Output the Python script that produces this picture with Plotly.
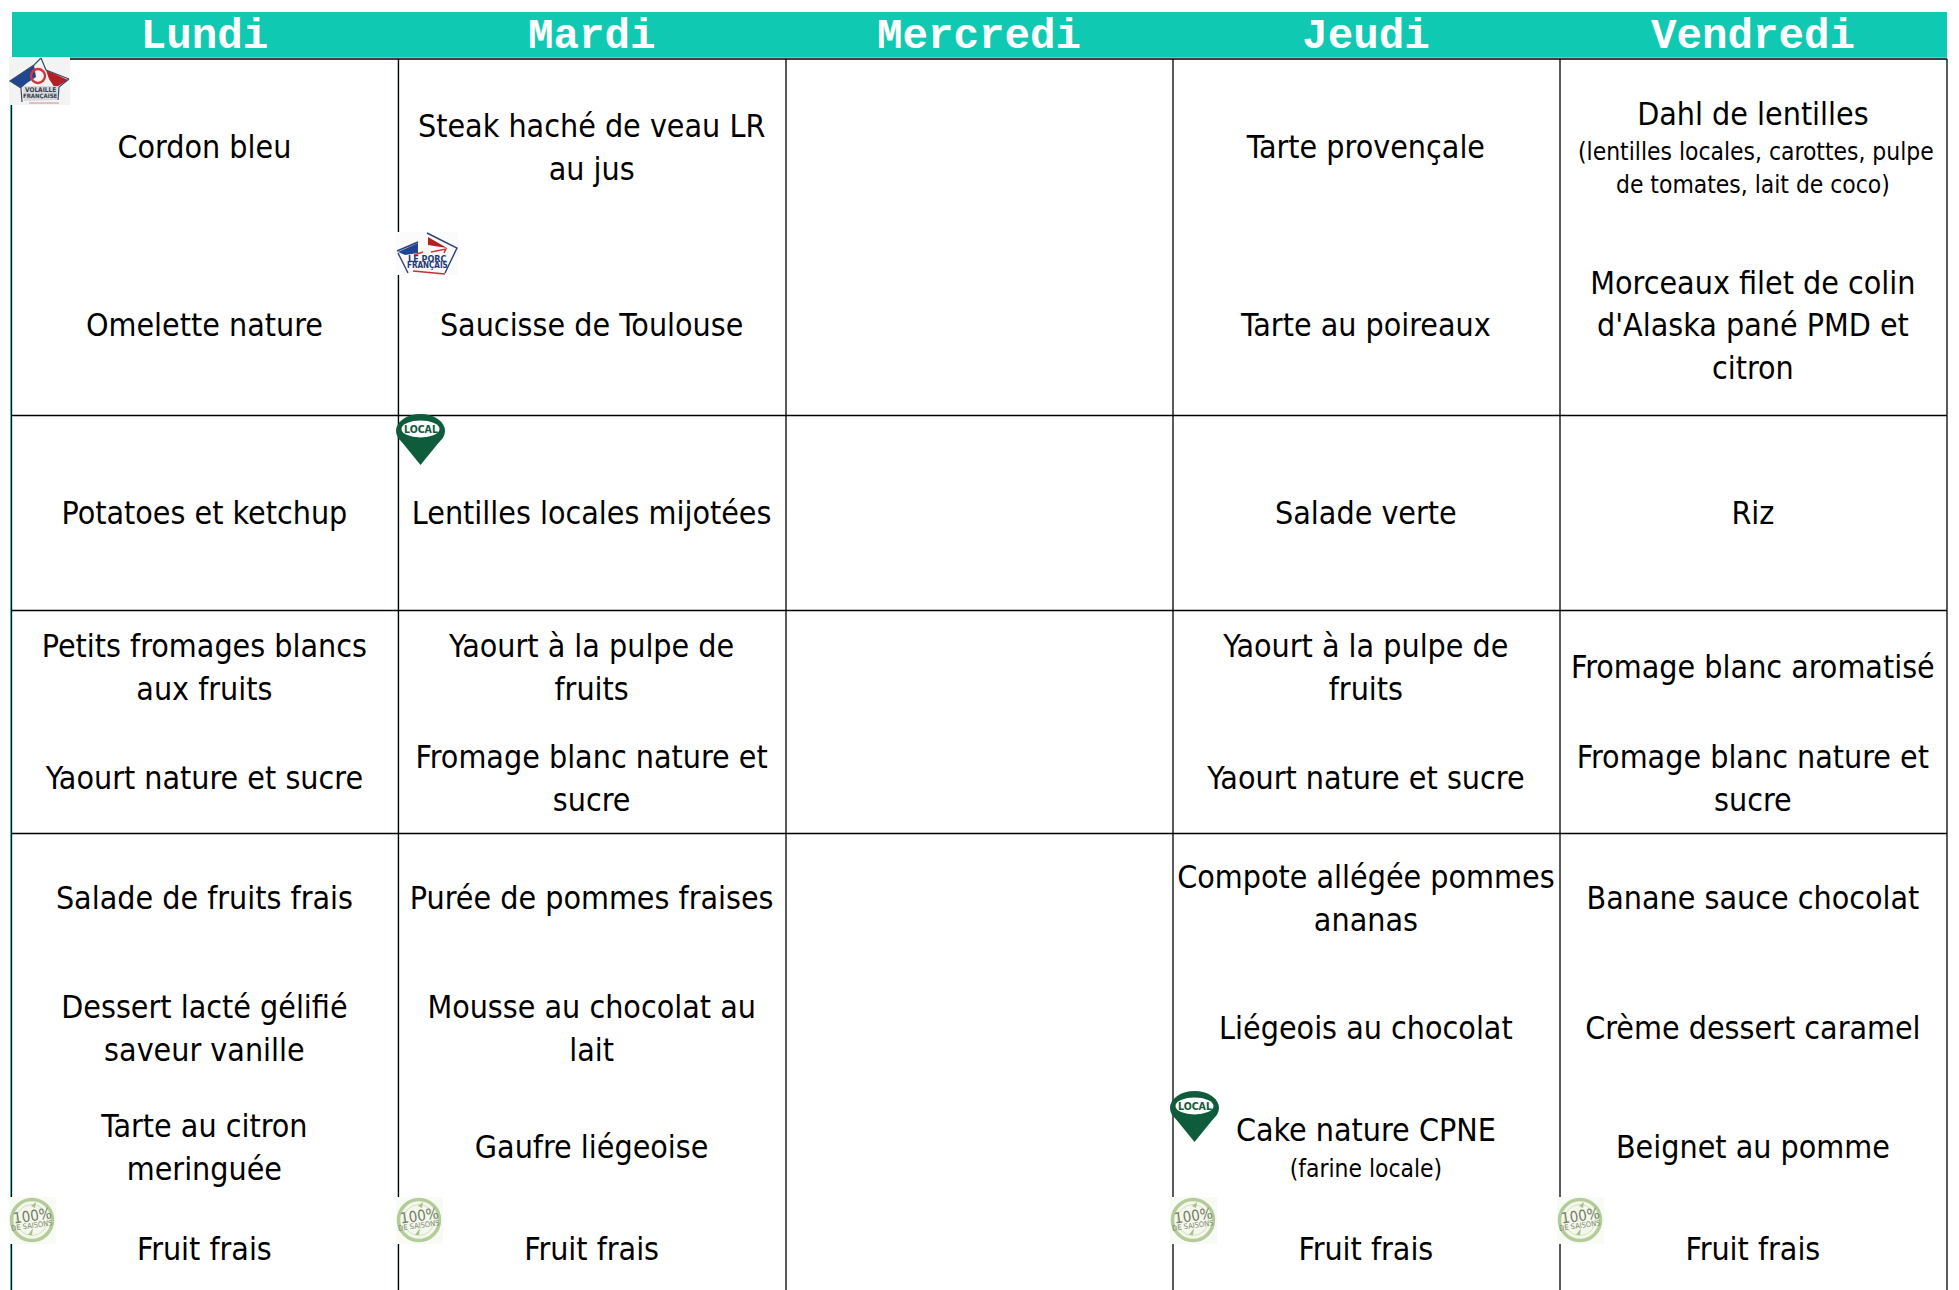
import plotly.graph_objects as go

days = ["Lundi", "Mardi", "Mercredi", "Jeudi", "Vendredi"]
slot_y = [150.5, 328.5, 516.5, 670.5, 781.5, 901.5, 1031.5, 1150.5, 1252.5]

lundi = [["Cordon bleu"], ["Omelette nature"], ["Potatoes et ketchup"],
         ["Petits fromages blancs", "aux fruits"], ["Yaourt nature et sucre"],
         ["Salade de fruits frais"], ["Dessert lacté gélifié", "saveur vanille"],
         ["Tarte au citron", "meringuée"], ["Fruit frais"]]
mardi = [["Steak haché de veau LR", "au jus"], ["Saucisse de Toulouse"], ["Lentilles locales mijotées"],
         ["Yaourt à la pulpe de", "fruits"], ["Fromage blanc nature et", "sucre"],
         ["Purée de pommes fraises"], ["Mousse au chocolat au", "lait"],
         ["Gaufre liégeoise"], ["Fruit frais"]]
mercredi = [[] for _ in slot_y]
jeudi = [["Tarte provençale"], ["Tarte au poireaux"], ["Salade verte"],
         ["Yaourt à la pulpe de", "fruits"], ["Yaourt nature et sucre"],
         ["Compote allégée pommes", "ananas"], ["Liégeois au chocolat"],
         ["Cake nature CPNE", "(farine locale)"], ["Fruit frais"]]
vendredi = [["Dahl de lentilles", "(lentilles locales, carottes, pulpe", "de tomates, lait de coco)"],
            ["Morceaux filet de colin", "d'Alaska pané PMD et", "citron"], ["Riz"],
            ["Fromage blanc aromatisé"], ["Fromage blanc nature et", "sucre"],
            ["Banane sauce chocolat"], ["Crème dessert caramel"],
            ["Beignet au pomme"], ["Fruit frais"]]
menus = [lundi, mardi, mercredi, jeudi, vendredi]

W, H = 1959, 1290
col_lines = [11.5, 398.5, 786, 1173, 1560, 1947]
row_lines = [59, 415.5, 610.5, 833.5]
centers = [(col_lines[i] + col_lines[i + 1]) / 2 - 0.6 for i in range(5)]
LINE_H = 42.5
BODY_FONT = "DejaVu Sans Condensed, DejaVu Sans, sans-serif"
BODY_SIZE = 31.9
SMALL_SIZE = 24.4
TEAL = "#10c9b3"
LOCAL_GREEN = "#0f5c3c"

shapes = []
def rect(x0, y0, x1, y1, fill, layer="above"):
    shapes.append(dict(type="rect", x0=x0, y0=y0, x1=x1, y1=y1, fillcolor=fill, line_width=0, layer=layer))
def poly(pts, fill=None, line=None, w=1, closed=True):
    p = "M " + " L ".join(f"{x},{y}" for x, y in pts) + (" Z" if closed else "")
    shapes.append(dict(type="path", path=p, fillcolor=fill or "rgba(0,0,0,0)",
                       line=dict(color=line or "rgba(0,0,0,0)", width=w), layer="above"))
def circle(cx, cy, rx, ry, fill=None, line=None, w=1):
    shapes.append(dict(type="circle", x0=cx - rx, x1=cx + rx, y0=cy - ry, y1=cy + ry,
                       fillcolor=fill or "rgba(0,0,0,0)",
                       line=dict(color=line or "rgba(0,0,0,0)", width=w), layer="above"))

# header band
rect(12, 12, 1947, 57.7, TEAL, layer="below")
# pale fringes beside the first two vertical rules
shapes.append(dict(type="line", x0=10.5, x1=10.5, y0=59, y1=H, line=dict(color="#35dede", width=1), layer="below"))
shapes.append(dict(type="line", x0=397.5, x1=397.5, y0=59, y1=H, line=dict(color="#b4f2ee", width=1), layer="below"))
# grid
for x in col_lines:
    shapes.append(dict(type="line", x0=x, x1=x, y0=59, y1=H, line=dict(color="#000", width=1.3), layer="below"))
for y in row_lines:
    shapes.append(dict(type="line", x0=11.5, x1=1947, y0=y, y1=y, line=dict(color="#000", width=1.3), layer="below"))

logo_text = []
def R(x, y, pts):
    return [(x + a, y + b) for a, b in pts]
def volaille(x, y):
    rect(x, y, x + 61, y + 48, "#f3f3f3")
    poly(R(x, y, [(1, 24), (25, 8), (27, 20), (18, 26), (12, 31)]), "#1f4690")
    poly(R(x, y, [(37, 13), (59, 23), (46, 31), (40, 22)]), "#b21f24")
    poly(R(x, y, [(32, 1), (37, 13), (60, 22)]), None, "#3d4660", 1.2, closed=False)
    poly(R(x, y, [(32, 1), (25, 8), (1, 24), (12, 31), (13, 45)]), None, "#3d4660", 1.2, closed=False)
    poly(R(x, y, [(60, 22), (50, 30), (49, 43)]), None, "#3d4660", 1.2, closed=False)
    circle(x + 29, y + 19, 7, 7, None, "#d8333a", 2.4)
    poly(R(x, y, [(14, 29), (49, 29), (48, 43), (15, 44)]), "#d6dadf", None)
    poly(R(x, y, [(20, 46), (50, 46)]), None, "#d08a90", 1, closed=False)
    logo_text.append((x + 31, y + 33, "<b>VOLAILLE</b>", 6.5, "#3a3f4a", 0))
    logo_text.append((x + 31, y + 38.5, "<b>FRANÇAISE</b>", 6, "#3a3f4a", 0))
def porc(x, y):
    rect(x, y, x + 62, y + 43, "#fbfbfb")
    poly(R(x, y, [(2, 20), (22, 11), (22, 21), (9, 23)]), "#1f4690")
    poly(R(x, y, [(32, 5), (51, 16), (32, 13)]), "#b21f24")
    poly(R(x, y, [(1, 19), (22, 10)]), None, "#2b3f78", 1.4, closed=False)
    poly(R(x, y, [(31, 1), (61, 16), (49, 41)]), None, "#2b3f78", 1.4, closed=False)
    poly(R(x, y, [(2, 21), (12, 41)]), None, "#2b3f78", 1.4, closed=False)
    poly(R(x, y, [(17, 39), (49, 42)]), None, "#c43038", 1.5, closed=False)
    poly(R(x, y, [(18, 23), (27, 20)]), None, "#d8333a", 1.5, closed=False)
    poly(R(x, y, [(35, 20), (50, 17), (48, 21)]), None, "#d8333a", 1.5, closed=False)
    logo_text.append((x + 31, y + 27, "<b>LE PORC</b>", 9, "#243a75", 0))
    logo_text.append((x + 31, y + 33, "<b>FRANÇAIS</b>", 8, "#243a75", 0))
def local(x, y):
    circle(x + 24.5, y + 17, 24.5, 17, LOCAL_GREEN)
    poly(R(x, y, [(5, 27), (44, 27), (24.5, 51)]), LOCAL_GREEN)
    circle(x + 24.5, y + 15, 19, 8.5, "#ffffff")
    logo_text.append((x + 24.5, y + 15, "<b>LOCAL</b>", 10.5, LOCAL_GREEN, 0))
def saison(x, y):
    rect(x, y, x + 47, y + 47, "#f8faf4")
    circle(x + 23, y + 23, 20.5, 20.5, "#f4f7ec", "#b4cb9a", 3.5)
    circle(x + 23, y + 23, 15.5, 15.5, None, "#d5e2c2", 1)
    poly(R(x, y, [(19, 38), (24, 31), (23, 38)]), "#a9c08c", None)
    poly(R(x, y, [(22, 9), (27, 5), (26, 11)]), "#a9c08c", None)
    logo_text.append((x + 23, y + 18.5, "100%", 15, "#6f7d68", -8))
    logo_text.append((x + 23, y + 28, "DE SAISONS", 7.5, "#7f8d74", -8))

volaille(9, 57)
porc(396, 232)
local(396, 414)
local(1170, 1091)
for lx in (9, 396, 1170, 1557):
    saison(lx, 1197)

fig = go.Figure()

# header labels
fig.add_trace(go.Scatter(x=centers, y=[37.5] * 5, mode="text", text=days, hoverinfo="skip",
                         textfont=dict(family="Liberation Mono", size=42.5, color="white", weight="bold"),
                         textposition="middle center", showlegend=False))

# explicit offsets from the slot centre for dishes with a small second line
special = {"Dahl de lentilles": -33, "(lentilles locales, carottes, pulpe": 3, "de tomates, lait de coco)": 36,
           "Cake nature CPNE": -17, "(farine locale)": 20}
x_shift = {"(lentilles locales, carottes, pulpe": 3}

bx, by, bt, sx, sy, st = [], [], [], [], [], []
for c, menu in enumerate(menus):
    for s, dish in enumerate(menu):
        n = len(dish)
        for i, line in enumerate(dish):
            if line in special:
                yy = slot_y[s] + special[line]
            else:
                yy = slot_y[s] + (i - (n - 1) / 2) * LINE_H
            xx = centers[c] + x_shift.get(line, 0)
            if line.startswith("(") or line.startswith("de tomates"):
                sx.append(xx); sy.append(yy); st.append(line)
            else:
                bx.append(xx); by.append(yy); bt.append(line)

fig.add_trace(go.Scatter(x=bx, y=by, mode="text", text=bt, hoverinfo="skip", textposition="middle center",
                         textfont=dict(family=BODY_FONT, size=BODY_SIZE, color="#000"), showlegend=False))
fig.add_trace(go.Scatter(x=sx, y=sy, mode="text", text=st, hoverinfo="skip", textposition="middle center",
                         textfont=dict(family=BODY_FONT, size=SMALL_SIZE, color="#000"), showlegend=False))

annotations = [dict(x=x, y=y, text=t, showarrow=False, textangle=a, font=dict(family=BODY_FONT, size=s, color=col),
                    xanchor="center", yanchor="middle") for x, y, t, s, col, a in logo_text]

fig.update_layout(width=W, height=H, autosize=False, margin=dict(l=0, r=0, t=0, b=0),
                  paper_bgcolor="white", plot_bgcolor="white", shapes=shapes, annotations=annotations,
                  xaxis=dict(range=[0, W], visible=False, fixedrange=True),
                  yaxis=dict(range=[H, 0], visible=False, fixedrange=True))
fig.write_html("out.html", config=dict(displayModeBar=False),
               post_script="document.body.style.margin='0';document.documentElement.style.overflow='hidden';")
